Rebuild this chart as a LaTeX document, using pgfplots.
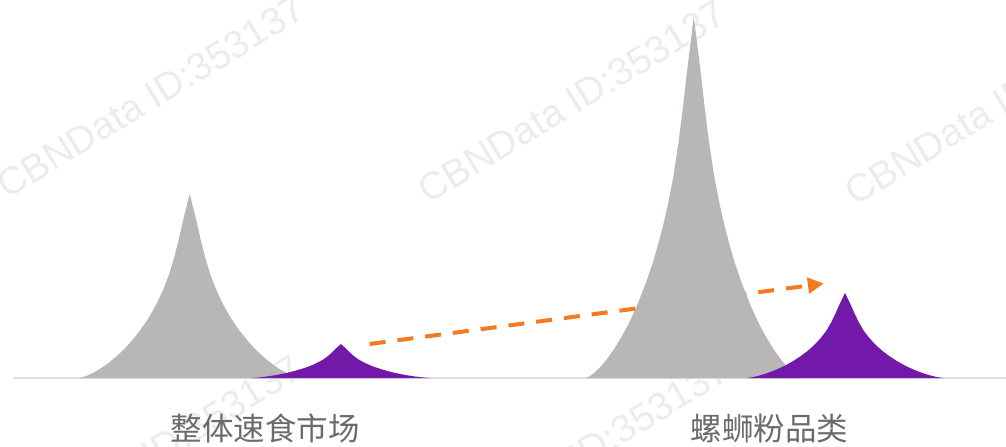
\documentclass[border=0pt]{standalone}
\usepackage{fontspec}
\setmainfont{Liberation Sans}
\newfontfamily\cjk{Noto Sans CJK SC}
\usepackage{pgfplots}
\pgfplotsset{compat=1.18}
\usepackage{pgfplotstable}
\usetikzlibrary{arrows.meta}
\definecolor{spgray}{HTML}{B8B7B6}
\definecolor{sppurple}{HTML}{7219AA}
\definecolor{arroworange}{HTML}{F47A22}
\definecolor{axisgray}{HTML}{DCDCDC}
\definecolor{labelgray}{HTML}{6B6B6B}
\definecolor{wmgray}{HTML}{ECECEC}

% category position, height, half width of each spike
\pgfplotstableread{
x h w
-0.15 184 0.218
0.85 361 0.213
}\graydata
\pgfplotstableread{
x h w
0.15 34 0.177
1.15 85 0.194
}\purpledata

% spike symbol (normalised outline, scaled by the data height and width)
\newcommand\spkR[2]{\pgfmathsetmacro\spkx{#1*\spw}\pgfmathsetmacro\spky{(#2-1)*\sph}\pgfpathlineto{\pgfplotspointaxisdirectionxy{\spkx}{\spky}}}
\newcommand\spkL[2]{\pgfmathsetmacro\spkx{-#1*\spw}\pgfmathsetmacro\spky{(#2-1)*\sph}\pgfpathlineto{\pgfplotspointaxisdirectionxy{\spkx}{\spky}}}
\pgfdeclareplotmark{spike}{%
  \pgfpathmoveto{\pgfpointorigin}%
  \spkR{0.034}{0.92}\spkR{0.067}{0.84}\spkR{0.101}{0.75}\spkR{0.1405}{0.657}%
  \spkR{0.189}{0.56}\spkR{0.243}{0.478}\spkR{0.288}{0.42}\spkR{0.332}{0.37}%
  \spkR{0.381}{0.32}\spkR{0.45}{0.26}\spkR{0.53}{0.2}\spkR{0.604}{0.152}%
  \spkR{0.671}{0.115}\spkR{0.7425}{0.08}\spkR{0.8145}{0.05}\spkR{0.8725}{0.03}%
  \spkR{0.925}{0.015}\spkR{0.97}{0.005}\spkR{1}{0}%
  \spkL{1}{0}\spkL{0.97}{0.005}\spkL{0.925}{0.015}\spkL{0.8725}{0.03}%
  \spkL{0.8145}{0.05}\spkL{0.7425}{0.08}\spkL{0.671}{0.115}\spkL{0.604}{0.152}%
  \spkL{0.53}{0.2}\spkL{0.45}{0.26}\spkL{0.381}{0.32}\spkL{0.332}{0.37}%
  \spkL{0.288}{0.42}\spkL{0.243}{0.478}\spkL{0.189}{0.56}\spkL{0.1405}{0.657}%
  \spkL{0.101}{0.75}\spkL{0.067}{0.84}\spkL{0.034}{0.92}%
  \pgfpathclose
  \pgfusepathqfill}

\begin{document}
\begin{tikzpicture}
\useasboundingbox (0,0) rectangle (754.5pt,334.5pt);
% watermark
\foreach \px/\py in {7/200, 428/205, 855/207, 4/560, 431/562}{
  \node[anchor=base west, rotate=31.4, inner sep=0pt, text=wmgray,
        font=\fontsize{29}{30}\selectfont]
    at ({0.75*\px*1pt},{0.75*(446-\py)*1pt}) {CBNData ID:353137};
}
\begin{axis}[
  at={(10.5pt,51pt)}, anchor=south west,
  scale only axis, width=744pt, height=283.5pt,
  xmin=-0.4985, xmax=1.4693, ymin=0, ymax=378,
  axis x line=bottom, axis y line=none,
  x axis line style={-, draw=axisgray, line width=1.5pt},
  xtick={0,1}, xticklabels={整体速食市场,螺蛳粉品类},
  xtick style={draw=none}, major tick length=0pt,
  xticklabel style={font=\cjk\fontsize{23.6}{28}\selectfont, text=labelgray,
                    anchor=base, yshift=-46.5pt, inner sep=0pt},
  ytick=\empty,
  clip=false,
]
\addplot[only marks, mark=spike, color=spgray, mark options={fill=spgray, draw=none},
  visualization depends on={\thisrow{w} \as \spw},
  visualization depends on={\thisrow{h} \as \sph}]
  table[x=x, y=h] {\graydata};
\addplot[only marks, mark=spike, color=sppurple, mark options={fill=sppurple, draw=none},
  visualization depends on={\thisrow{w} \as \spw},
  visualization depends on={\thisrow{h} \as \sph}]
  table[x=x, y=h] {\purpledata};
\addplot[no marks, draw=arroworange, line width=3pt, dash pattern=on 12pt off 9pt,
  -{Triangle[length=12pt, width=11.5pt]}]
  coordinates {(0.207,34) (1.108,94.5)};
\end{axis}
\end{tikzpicture}
\end{document}
